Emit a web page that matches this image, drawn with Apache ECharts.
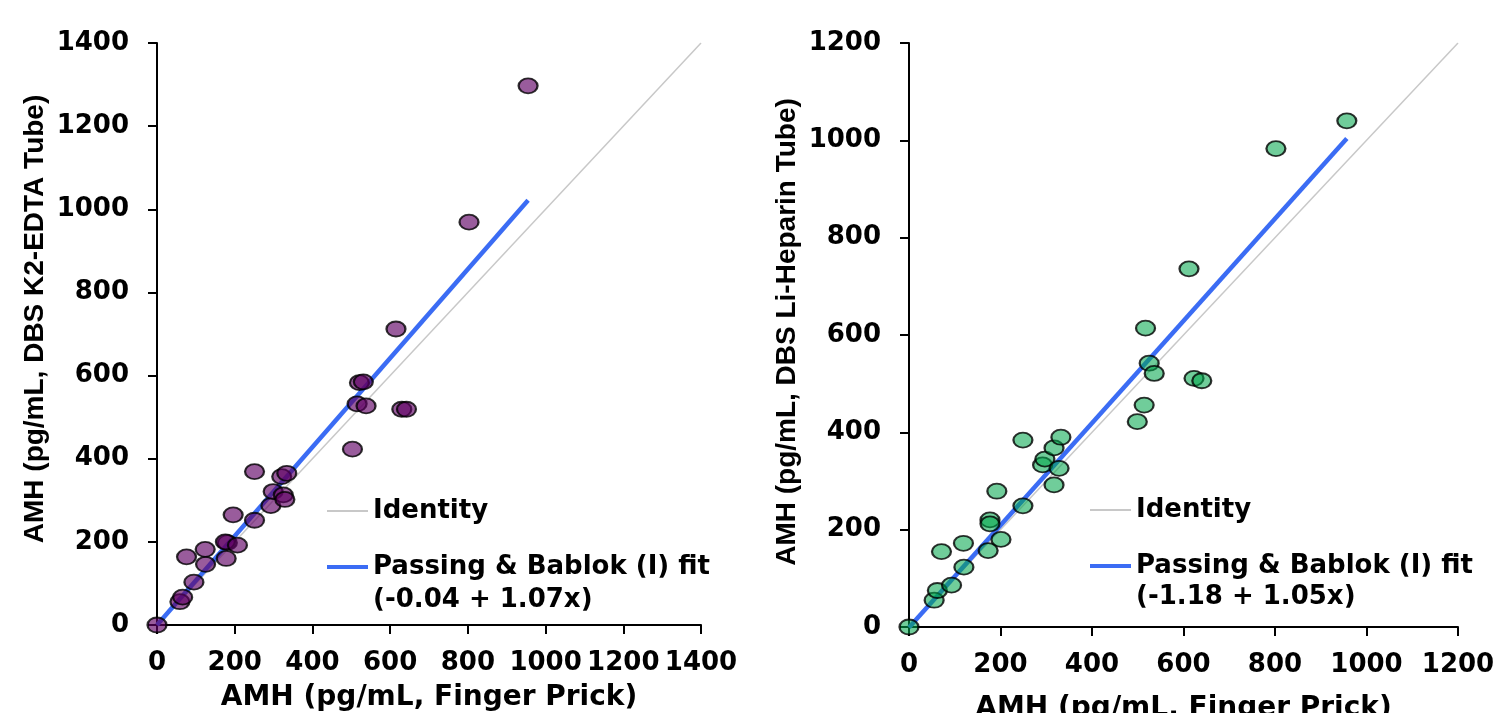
<!DOCTYPE html>
<html>
<head>
<meta charset="utf-8">
<script src="https://cdn.jsdelivr.net/npm/echarts@6/dist/echarts.min.js"></script>
<style>
html,body{margin:0;padding:0;background:#fff;}
#chart{width:1494px;height:713px;}
</style>
</head>
<body>
<div id="chart"></div>
<script>
// ---- Data ----
const fingerPrickEDTA = [0,59,66,95,76,124,125,178,181,176,207,196,251,251,293,299,325,329,321,334,503,515,538,521,531,630,642,615,803,955];
const dbsEDTA        = [0,56,67,103,164,182,146,160,198,200,192,265,252,369,287,321,313,302,357,365,423,532,527,583,585,519,519,712,969,1297];
const fingerPrickHep = [0,55,62,93,71,120,119,173,177,177,201,192,249,249,292,297,317,328,317,332,499,514,517,525,536,623,640,612,802,957];
const dbsHep         = [0,55,75,86,155,123,172,157,220,212,180,279,249,384,333,345,292,326,368,390,422,456,614,542,521,511,506,736,983,1040];
const fitEDTA = [-0.04, 1.07];   // intercept, slope
const fitHep  = [-1.18, 1.05];
const axisMaxEDTA = 1400, axisMaxHep = 1200, tickStep = 200;
const legendNames = ['Identity', 'Passing & Bablok (I) fit'];
const eqEDTA = '(-0.04 + 1.07x)';
const eqHep  = '(-1.18 + 1.05x)';
const xTitle = 'AMH (pg/mL, Finger Prick)';
const yTitleEDTA = 'AMH (pg/mL, DBS K2-EDTA Tube)';
const yTitleHep  = 'AMH (pg/mL, DBS Li-Heparin Tube)';

// ---- Build ----
const pairs = (xs, ys) => xs.map((x, i) => [x, ys[i]]);
const fitLine = (xs, f) => { const m = Math.max(...xs); return [[0, f[0]], [m, f[0] + f[1] * m]]; };
const IDENTITY_COLOR = '#c8c8c8', FIT_COLOR = '#3b6cf4';

const tickFont = {fontFamily: 'DejaVu Sans', fontWeight: 'bold', fontSize: 26, color: '#000',
  formatter: v => String(v), showMinLabel: true, showMaxLabel: true, hideOverlap: false};
function xAx(gi, max, gap) {
  return {gridIndex: gi, type: 'value', min: 0, max: max, interval: tickStep,
    name: xTitle, nameLocation: 'middle', nameGap: gap,
    nameTextStyle: {fontFamily: 'DejaVu Sans', fontWeight: 'bold', fontSize: 28, color: '#000'},
    axisLine: {show: true, onZero: false, lineStyle: {color: '#000', width: 2}},
    axisTick: {show: true, length: 9, lineStyle: {color: '#000', width: 2}},
    axisLabel: Object.assign({margin: 25}, tickFont),
    splitLine: {show: false}};
}
function yAx(gi, max, title, pad) {
  return {gridIndex: gi, type: 'value', min: 0, max: max, interval: tickStep,
    name: title, nameLocation: 'middle', nameGap: 108, nameRotate: 90,
    nameTextStyle: {fontFamily: 'Liberation Sans', fontWeight: 'bold', fontSize: 28, color: '#000', padding: [0, 0, 0, pad]},
    axisLine: {show: true, onZero: false, lineStyle: {color: '#000', width: 2}},
    axisTick: {show: true, length: 9, lineStyle: {color: '#000', width: 2}},
    axisLabel: Object.assign({margin: 28}, tickFont),
    splitLine: {show: false}};
}
function seriesFor(gi, xs, ys, f, max, fill) {
  return [
    {name: legendNames[0], type: 'line', xAxisIndex: gi, yAxisIndex: gi, symbol: 'none',
      data: [[0, 0], [max, max]], lineStyle: {color: IDENTITY_COLOR, width: 1.5}, itemStyle: {color: IDENTITY_COLOR}, z: 2, silent: true},
    {name: legendNames[1], type: 'line', xAxisIndex: gi, yAxisIndex: gi, symbol: 'none',
      data: fitLine(xs, f), lineStyle: {color: FIT_COLOR, width: 4.5}, itemStyle: {color: FIT_COLOR}, z: 3, silent: true},
    {type: 'scatter', xAxisIndex: gi, yAxisIndex: gi, data: pairs(xs, ys), symbol: 'circle', symbolSize: [19, 15],
      itemStyle: {color: fill, borderColor: '#000', borderWidth: 2}, z: 4}
  ];
}
const legendText = {fontFamily: 'DejaVu Sans', fontWeight: 'bold', fontSize: 26, color: '#000', lineHeight: 30};
function legendItem(name, color, h, left, top) {
  return {data: [{name: name, icon: 'rect', itemStyle: {color: color, borderWidth: 0}}],
    left: left, top: top, padding: 0, itemWidth: 41, itemHeight: h,
    selectedMode: false, textStyle: legendText};
}
const eqStyle = {fontFamily: 'DejaVu Sans', fontWeight: 'bold', fontSize: 26, fill: '#000'};

const option = {
  animation: false,
  backgroundColor: '#fff',
  grid: [
    {left: 157, top: 43, width: 544, height: 582, containLabel: false, outerBoundsMode: 'none'},
    {left: 909, top: 43, width: 549, height: 584, containLabel: false, outerBoundsMode: 'none'}
  ],
  xAxis: [xAx(0, axisMaxEDTA, 59), xAx(1, axisMaxHep, 68)],
  yAxis: [yAx(0, axisMaxEDTA, yTitleEDTA, 30), yAx(1, axisMaxHep, yTitleHep, 6)],
  legend: [
    legendItem(legendNames[0], IDENTITY_COLOR, 2, 327, 496),
    legendItem(legendNames[1], FIT_COLOR, 4, 327, 552),
    legendItem(legendNames[0], IDENTITY_COLOR, 2, 1090, 495),
    legendItem(legendNames[1], FIT_COLOR, 4, 1090, 551)
  ],
  graphic: [
    {type: 'text', left: 373, top: 587, style: Object.assign({text: eqEDTA}, eqStyle)},
    {type: 'text', left: 1136, top: 584, style: Object.assign({text: eqHep}, eqStyle)}
  ],
  series: [].concat(
    seriesFor(0, fingerPrickEDTA, dbsEDTA, fitEDTA, axisMaxEDTA, 'rgba(95,0,100,0.8)'),
    seriesFor(1, fingerPrickHep, dbsHep, fitHep, axisMaxHep, 'rgba(0,165,75,0.7)')
  )
};
const chart = echarts.init(document.getElementById('chart'), null, {renderer: 'canvas'});
chart.setOption(option);
</script>
</body>
</html>
